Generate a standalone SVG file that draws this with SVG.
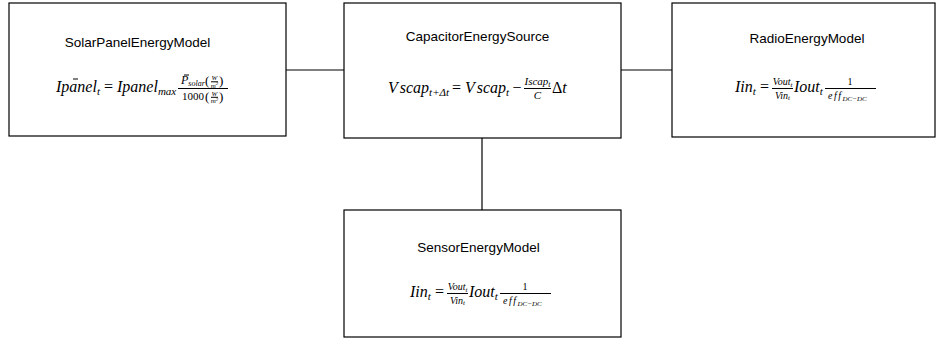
<svg xmlns="http://www.w3.org/2000/svg" width="941" height="349" viewBox="0 0 941 349">
  <style>
    .box { fill: #ffffff; stroke: #000000; stroke-width: 1.2; }
    .wire { fill: none; stroke: #000000; stroke-width: 1.2; }
    .bar { stroke: #000000; stroke-width: 1; }
    .title { font-family: "Liberation Sans", Arial, sans-serif; font-size: 13.5px; fill: #000000; text-anchor: middle; }
    .m { font-family: "Liberation Serif", "Times New Roman", serif; font-style: italic; fill: #000000; }
    .r { font-family: "Liberation Serif", "Times New Roman", serif; font-style: normal; fill: #000000; }
    .mid { text-anchor: middle; }
  </style>
  <rect width="941" height="349" fill="#ffffff"/>

  <!-- connectors between the energy blocks -->
  <g id="connectors">
    <line class="wire" x1="286" y1="70" x2="344" y2="70"/>
    <line class="wire" x1="621" y1="70" x2="672" y2="70"/>
    <line class="wire" x1="482" y1="138" x2="482" y2="210"/>
  </g>

  <!-- solar panel model -->
  <g id="solar-panel">
    <rect class="box" x="9" y="3" width="277" height="133"/>
    <text class="title" x="137.5" y="47">SolarPanelEnergyModel</text>
    <text class="m" x="56" y="92" font-size="16">Ipanel<tspan font-size="11" dy="3">t</tspan></text>
    <line class="bar" x1="73" y1="79" x2="78" y2="79"/>
    <text class="r" x="104" y="92" font-size="16">=</text>
    <text class="m" x="117" y="92" font-size="16">Ipanel<tspan font-size="11" dy="3">max</tspan></text>
    <line class="bar" x1="178" y1="88.5" x2="228" y2="88.5"/>
    <!-- numerator -->
    <line class="bar" x1="184" y1="75" x2="189" y2="75" stroke-width="0.8"/>
    <text class="m" x="181" y="84" font-size="12">P<tspan font-size="8" dy="2">solar</tspan></text>
    <text class="r" x="205" y="85" font-size="13">(</text>
    <text class="m mid" x="214.5" y="80" font-size="7">W</text>
    <line class="bar" x1="211" y1="81.8" x2="218" y2="81.8" stroke-width="0.7"/>
    <text class="m mid" x="214.5" y="87.5" font-size="7">m<tspan font-size="5" dy="-2.5">2</tspan></text>
    <text class="r" x="219" y="85" font-size="13">)</text>
    <!-- denominator -->
    <text class="r" x="182" y="100" font-size="11">1000</text>
    <text class="r" x="205" y="101" font-size="13">(</text>
    <text class="m mid" x="214.5" y="95.5" font-size="7">W</text>
    <line class="bar" x1="211" y1="97.3" x2="218" y2="97.3" stroke-width="0.7"/>
    <text class="m mid" x="214.5" y="103" font-size="7">m<tspan font-size="5" dy="-2.5">2</tspan></text>
    <text class="r" x="219" y="101" font-size="13">)</text>
  </g>

  <!-- capacitor storage -->
  <g id="capacitor-source">
    <rect class="box" x="344" y="3" width="277" height="135"/>
    <text class="title" x="477.5" y="41">CapacitorEnergySource</text>
    <text class="m" x="388" y="93" font-size="16">V<tspan dx="2">scap</tspan><tspan font-size="11" dy="3">t+Δt</tspan></text>
    <text class="r" x="452" y="93" font-size="16">=</text>
    <text class="m" x="465" y="93" font-size="16">V<tspan dx="2">scap</tspan><tspan font-size="11" dy="3">t</tspan></text>
    <text class="r" x="512.5" y="93" font-size="16">−</text>
    <line class="bar" x1="524" y1="88.5" x2="551" y2="88.5"/>
    <text class="m mid" x="537.5" y="85" font-size="11">Iscap<tspan font-size="8" dy="2">t</tspan></text>
    <text class="m mid" x="537.5" y="99" font-size="11">C</text>
    <text class="r" x="552" y="93" font-size="16">Δ<tspan class="m">t</tspan></text>
  </g>

  <!-- radio load -->
  <g id="radio-model">
    <rect class="box" x="672" y="3" width="263" height="134"/>
    <text class="title" x="807" y="43">RadioEnergyModel</text>
    <text class="m" x="735" y="92" font-size="16">Iin<tspan font-size="11" dy="3">t</tspan></text>
    <text class="r" x="760" y="92" font-size="16">=</text>
    <line class="bar" x1="772" y1="88.5" x2="793" y2="88.5"/>
    <text class="m mid" x="782.5" y="85" font-size="10">Vout<tspan font-size="7" dy="1.5">t</tspan></text>
    <text class="m mid" x="782.5" y="98.5" font-size="10">Vin<tspan font-size="7" dy="1.5">t</tspan></text>
    <text class="m" x="794" y="92" font-size="16">Iout<tspan font-size="11" dy="3">t</tspan></text>
    <line class="bar" x1="825" y1="88.5" x2="876" y2="88.5"/>
    <text class="r mid" x="850" y="85" font-size="10">1</text>
    <text class="m" x="828" y="99" font-size="10" letter-spacing="1.5">eff<tspan font-size="7" dy="1.5" letter-spacing="0">DC−DC</tspan></text>
  </g>

  <!-- sensor load -->
  <g id="sensor-model">
    <rect class="box" x="344" y="210" width="277" height="127"/>
    <text class="title" x="478.5" y="251.5">SensorEnergyModel</text>
    <text class="m" x="410" y="297" font-size="16">Iin<tspan font-size="11" dy="3">t</tspan></text>
    <text class="r" x="435" y="297" font-size="16">=</text>
    <line class="bar" x1="447" y1="293.5" x2="468" y2="293.5"/>
    <text class="m mid" x="457.5" y="290" font-size="10">Vout<tspan font-size="7" dy="1.5">t</tspan></text>
    <text class="m mid" x="457.5" y="303.5" font-size="10">Vin<tspan font-size="7" dy="1.5">t</tspan></text>
    <text class="m" x="469" y="297" font-size="16">Iout<tspan font-size="11" dy="3">t</tspan></text>
    <line class="bar" x1="500" y1="293.5" x2="551" y2="293.5"/>
    <text class="r mid" x="525" y="290" font-size="10">1</text>
    <text class="m" x="503" y="304" font-size="10" letter-spacing="1.5">eff<tspan font-size="7" dy="1.5" letter-spacing="0">DC−DC</tspan></text>
  </g>
</svg>
